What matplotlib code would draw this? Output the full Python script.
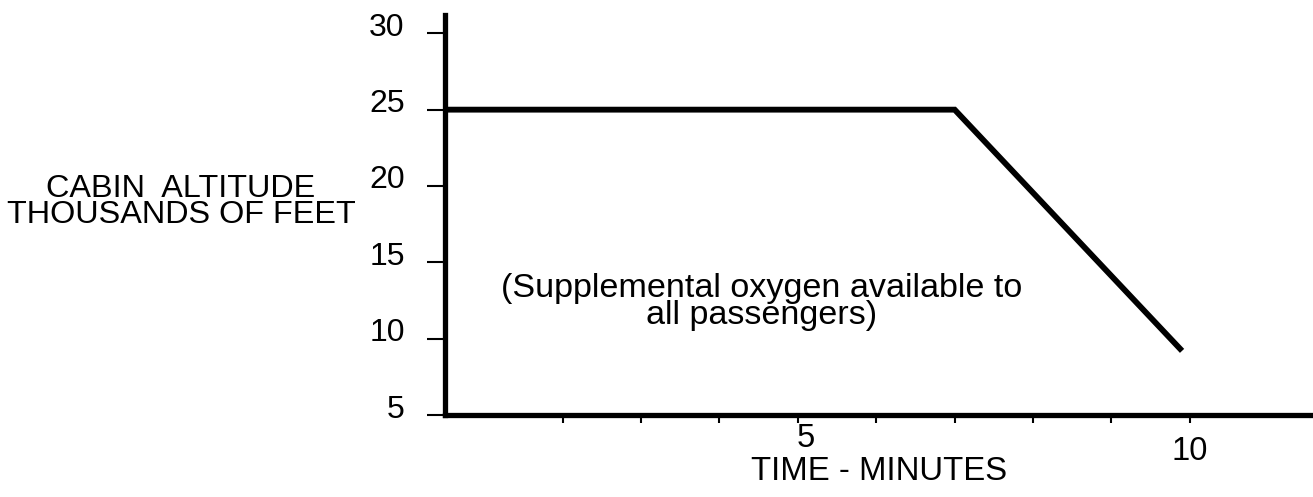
import matplotlib
matplotlib.use('Agg')
import matplotlib.pyplot as plt
from matplotlib.transforms import ScaledTranslation

# cabin altitude profile (minutes, thousands of feet)
minutes = [0.5, 7.0, 9.9]
altitude = [25, 25, 9.2]

y_ticks = [5, 10, 15, 20, 25, 30]
x_major = [5, 10]
x_minor = [2, 3, 4, 6, 7, 8, 9]

plt.rcParams['font.family'] = ['Liberation Sans', 'DejaVu Sans']

W, H = 1313, 497
fig = plt.figure(figsize=(W / 100, H / 100), dpi=100)
ax = fig.add_axes([445 / W, 82 / H, 868 / W, 400 / H])

ax.plot(minutes, altitude, color='black', lw=4.2,
        solid_capstyle='butt', solid_joinstyle='miter')

ax.set_xlim(0.5, 11.57)
ax.set_ylim(5, 31.2)

for s in ['top', 'right']:
    ax.spines[s].set_visible(False)
for s in ['left', 'bottom']:
    ax.spines[s].set_linewidth(3.8)

ax.set_yticks(y_ticks)
ax.tick_params(axis='y', length=13, width=1.5, pad=16, labelsize=23)

ax.set_xticks(x_major)
ax.set_xticks(x_minor, minor=True)
ax.tick_params(axis='x', which='both', direction='out', length=6, width=1.5)
ax.tick_params(axis='x', which='major', pad=0, labelsize=23.5)

fig.canvas.draw()
# labels on the original sit a little above their ticks
for lbl in ax.get_yticklabels():
    lbl.set_transform(lbl.get_transform() + ScaledTranslation(0, 9 / 100, fig.dpi_scale_trans))
xl = ax.get_xticklabels()
xl[0].set_transform(xl[0].get_transform() + ScaledTranslation(8 / 100, 0, fig.dpi_scale_trans))
xl[1].set_transform(xl[1].get_transform() + ScaledTranslation(0, -13 / 100, fig.dpi_scale_trans))

fig.text(181 / W, 1 - 202 / H, 'CABIN  ALTITUDE\nTHOUSANDS OF FEET', ha='center', va='center',
         multialignment='center', fontsize=23.3, linespacing=0.85)
fig.text(879 / W, 1 - 471 / H, 'TIME - MINUTES', ha='center', va='center', fontsize=23.7)

ax.text(4.54, 12.4, '(Supplemental oxygen available to\nall passengers)', ha='center', va='center',
        multialignment='center', fontsize=24.6, linespacing=0.85)

fig.savefig('out.png', dpi=100)
